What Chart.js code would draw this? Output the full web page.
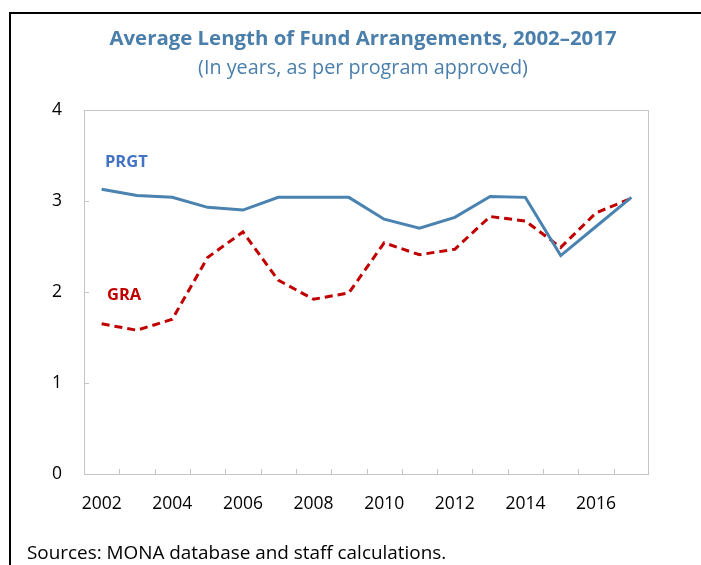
<!DOCTYPE html>
<html>
<head>
<meta charset="utf-8">
<script src="https://cdn.jsdelivr.net/npm/chart.js@4.4.1/dist/chart.umd.min.js"></script>
<style>
  html, body { margin: 0; padding: 0; background: #ffffff; }
  #wrap { width: 701px; height: 565px; position: relative; }
</style>
</head>
<body>
<div id="wrap"><canvas id="myChart" width="701" height="565"></canvas></div>
<script>
// Data
const years = ["2002", "2003", "2004", "2005", "2006", "2007", "2008", "2009",
  "2010", "2011", "2012", "2013", "2014", "2015", "2016", "2017"];
const prgt = [3.13, 3.06, 3.04, 2.93, 2.90, 3.04, 3.04, 3.04,
  2.80, 2.70, 2.82, 3.05, 3.04, 2.40, 2.72, 3.04];
const gra = [1.65, 1.58, 1.70, 2.38, 2.66, 2.13, 1.92, 1.99,
  2.54, 2.41, 2.47, 2.83, 2.78, 2.49, 2.87, 3.03];
const y_ticks = [0, 1, 2, 3, 4];

const title_text = "Average Length of Fund Arrangements, 2002\u20132017";
const subtitle_text = "(In years, as per program approved)";
const source_text = "Sources: MONA database and staff calculations.";

const font_family = "'Open Sans', 'Noto Sans', sans-serif";
const blue_line = "#4a82b0";
const red_line = "#c00000";

const ctx = document.getElementById("myChart").getContext("2d");

// Frame, titles, inner ticks and series labels
const decorations = {
  id: "decorations",
  beforeDraw(chart) {
    const c = chart.ctx;
    c.save();
    c.fillStyle = "#ffffff";
    c.fillRect(0, 0, chart.width, chart.height);
    // outer frame (top + left only visible)
    c.strokeStyle = "#000000";
    c.lineWidth = 2;
    c.beginPath();
    c.moveTo(10, chart.height);
    c.lineTo(10, 13);
    c.lineTo(chart.width, 13);
    c.stroke();
    c.restore();
  },
  afterDraw(chart) {
    const c = chart.ctx;
    const area = chart.chartArea;
    const xs = chart.scales.x;
    const ys = chart.scales.y;
    c.save();

    // plot border
    c.strokeStyle = "#c4c4c4";
    c.lineWidth = 1;
    c.strokeRect(area.left + 0.5, area.top + 0.5, area.right - area.left - 1, area.bottom - area.top);

    // inner ticks on x axis at category boundaries
    c.beginPath();
    for (let i = 1; i < years.length; i++) {
      const px = Math.round((xs.getPixelForValue(i - 1) + xs.getPixelForValue(i)) / 2) + 0.5;
      c.moveTo(px, area.bottom);
      c.lineTo(px, area.bottom - 5);
    }
    // inner ticks on y axis
    y_ticks.slice(1, -1).forEach((v) => {
      const py = Math.round(ys.getPixelForValue(v)) + 0.5;
      c.moveTo(area.left, py);
      c.lineTo(area.left + 5, py);
    });
    c.stroke();

    // titles
    c.textAlign = "center";
    c.textBaseline = "alphabetic";
    c.fillStyle = "#4a7eab";
    c.font = "bold 20.4px " + font_family;
    c.fillText(title_text, 363, 45);
    c.font = "19.8px " + font_family;
    c.fillText(subtitle_text, 363, 74);

    // series labels
    c.textAlign = "left";
    c.textBaseline = "middle";
    c.font = "bold 16.5px " + font_family;
    c.fillStyle = "#4472c4";
    c.fillText("PRGT", 105, 162.5);
    c.fillStyle = red_line;
    c.fillText("GRA", 107, 295);

    // sources
    c.textBaseline = "alphabetic";
    c.fillStyle = "#000000";
    c.font = "18.9px " + font_family;
    c.fillText(source_text, 27, 559);
    c.restore();
  }
};

const myChart = new Chart(ctx, {
  type: "line",
  data: {
    labels: years,
    datasets: [
      {
        label: "PRGT",
        data: prgt,
        borderColor: blue_line,
        borderWidth: 3,
        pointRadius: 0,
        tension: 0,
        fill: false
      },
      {
        label: "GRA",
        data: gra,
        borderColor: red_line,
        borderWidth: 3,
        borderDash: [8, 5],
        pointRadius: 0,
        tension: 0,
        fill: false
      }
    ]
  },
  options: {
    responsive: false,
    animation: false,
    devicePixelRatio: 1,
    layout: {
      padding: { top: 110, right: 52, bottom: 0, left: 0 }
    },
    plugins: {
      legend: { display: false },
      title: { display: false },
      tooltip: { enabled: false }
    },
    scales: {
      x: {
        offset: true,
        grid: { display: false, drawTicks: false },
        border: { display: false },
        ticks: {
          autoSkip: false,
          maxRotation: 0,
          padding: 20,
          color: "#000000",
          font: { family: font_family, size: 17.5 },
          callback: (value, index) => (index % 2 === 0 ? years[index] : "")
        },
        afterFit: (scale) => {
          scale.height = 91;
        }
      },
      y: {
        min: 0,
        max: 4,
        grid: { display: false, drawTicks: false },
        border: { display: false },
        ticks: {
          stepSize: 1,
          padding: 22,
          color: "#000000",
          font: { family: font_family, size: 17.5 }
        },
        afterFit: (scale) => {
          scale.width = 84;
        }
      }
    }
  },
  plugins: [decorations]
});
</script>
</body>
</html>
